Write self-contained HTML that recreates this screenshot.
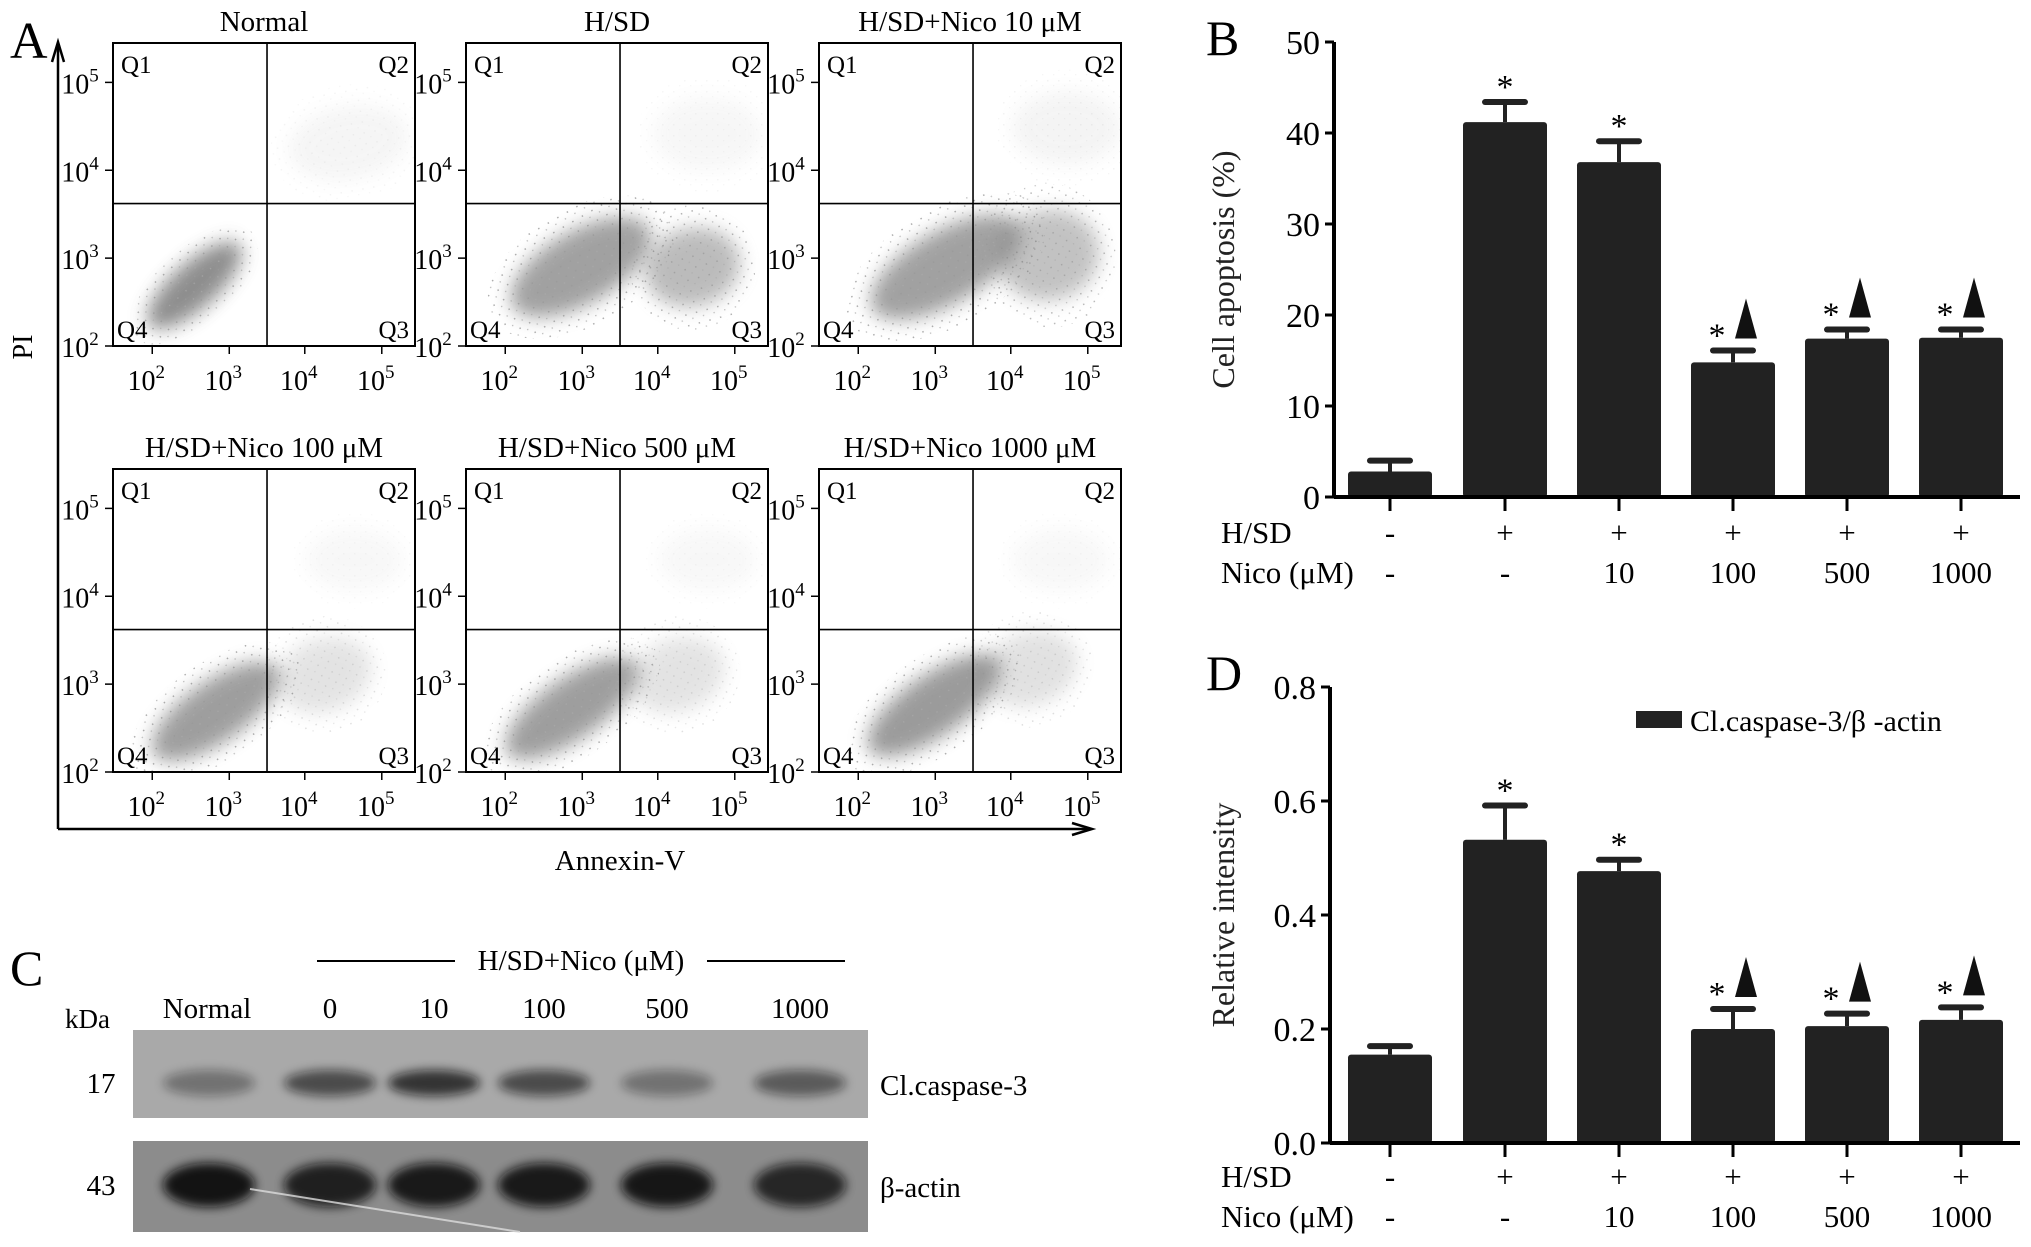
<!DOCTYPE html>
<html><head><meta charset="utf-8">
<style>
html,body{margin:0;padding:0;background:#fff;}
svg{display:block;}
svg text{font-family:"Liberation Serif","DejaVu Serif",serif;}
</style></head>
<body>
<svg id="fig" width="2031" height="1247" viewBox="0 0 2031 1247" xmlns="http://www.w3.org/2000/svg" font-family="Liberation Serif, serif">
<defs>
<filter id="blur8" x="-50%" y="-50%" width="200%" height="200%"><feGaussianBlur stdDeviation="9"/></filter>
<filter id="blur4" x="-50%" y="-50%" width="200%" height="200%"><feGaussianBlur stdDeviation="5"/></filter>
<pattern id="speck" width="11" height="11" patternUnits="userSpaceOnUse"><rect x="2" y="3" width="1.5" height="1.5" fill="#999"/><rect x="8" y="8" width="1.3" height="1.3" fill="#aaa"/></pattern>
</defs>
<g id="panelA"></g>
<g id="panelB"></g>
<g id="panelC"></g>
<g id="panelD"></g>
</svg>
<script>
// ---------- Chart B data ----------
const groupsHSD = ["-", "+", "+", "+", "+", "+"];
const groupsNico = ["-", "-", "10", "100", "500", "1000"];
const apoptosisValues = [2.8, 41.2, 36.8, 14.8, 17.4, 17.5];
const apoptosisErrors = [1.2, 2.2, 2.3, 1.3, 1.0, 0.9];
const apoptosisMarks = ["", "*", "*", "*▲", "*▲", "*▲"];
const apoptosisTicks = [0, 10, 20, 30, 40, 50];
// ---------- Chart D data ----------
const intensityValues = [0.155, 0.532, 0.477, 0.200, 0.205, 0.216];
const intensityErrors = [0.015, 0.060, 0.020, 0.035, 0.022, 0.022];
const intensityMarks = ["", "*", "*", "*▲", "*▲", "*▲"];
const intensityTicks = ["0.0", "0.2", "0.4", "0.6", "0.8"];
// ---------- Panel A data ----------
const flowTitles = ["Normal", "H/SD", "H/SD+Nico 10 μM", "H/SD+Nico 100 μM", "H/SD+Nico 500 μM", "H/SD+Nico 1000 μM"];
const flowTickExps = ["2", "3", "4", "5"];
// ---------- Panel C data ----------
const blotLanes = ["Normal", "0", "10", "100", "500", "1000"];
const caspaseBand = [0.35, 0.6, 0.75, 0.6, 0.35, 0.5];
const actinBand = [0.95, 0.85, 0.9, 0.9, 0.92, 0.8];

const NS = "http://www.w3.org/2000/svg";
const FF = "Liberation Serif, DejaVu Serif, serif";
function mk(parent, tag, attrs, text) {
  const e = document.createElementNS(NS, tag);
  for (const k in attrs) e.setAttribute(k, attrs[k]);
  if (tag === 'text' && !attrs['font-family']) e.setAttribute('font-family', FF);
  if (text !== undefined) e.textContent = text;
  parent.appendChild(e);
  return e;
}

// ================= Panel A =================
const A = document.getElementById('panelA');
let t = mk(A, 'text', {x: 10, y: 58, 'font-size': 52}, 'A');


let ax = mk(A, 'g', {});


mk(ax, 'line', {x1: 58, y1: 829, x2: 58, y2: 46, stroke: '#000', 'stroke-width': 2.5});
mk(ax, 'path', {d: 'M52,62 L58,42 L64,62', fill: 'none', stroke: '#000', 'stroke-width': 2.5});
let ax2 = mk(A, 'g', {});


mk(ax2, 'line', {x1: 58, y1: 829, x2: 1088, y2: 829, stroke: '#000', 'stroke-width': 2.5});
mk(ax2, 'path', {d: 'M1072,823 L1092,829 L1072,835', fill: 'none', stroke: '#000', 'stroke-width': 2.5});
t = mk(A, 'text', {x: 32, y: 347, 'font-size': 28, 'text-anchor': 'middle', transform: 'rotate(-90 32 347)'}, 'PI');


t = mk(A, 'text', {x: 620, y: 870, 'font-size': 29, 'text-anchor': 'middle'}, 'Annexin-V');



const boxX = [113, 466, 819], boxY = [43, 469], BW = 302, BH = 303;
const clouds = [
  [[0.27,0.8,0.2,0.075,-42,0.85],[0.78,0.33,0.2,0.12,-10,0.07]],
  [[0.38,0.74,0.26,0.12,-30,0.7],[0.75,0.74,0.16,0.13,-15,0.5],[0.8,0.3,0.18,0.12,0,0.06]],
  [[0.42,0.74,0.28,0.12,-30,0.7],[0.76,0.7,0.17,0.15,-15,0.45],[0.82,0.28,0.18,0.12,0,0.08]],
  [[0.34,0.8,0.25,0.1,-35,0.72],[0.7,0.68,0.16,0.12,-20,0.2],[0.8,0.3,0.16,0.1,0,0.05]],
  [[0.35,0.79,0.26,0.1,-35,0.72],[0.7,0.68,0.16,0.12,-20,0.2],[0.8,0.3,0.16,0.1,0,0.05]],
  [[0.38,0.78,0.26,0.1,-35,0.75],[0.7,0.66,0.16,0.12,-20,0.22],[0.8,0.3,0.16,0.1,0,0.05]]
];
flowTitles.forEach((title, i) => {
  const bx = boxX[i % 3], by = boxY[Math.floor(i / 3)];
  const g = mk(A, 'g', {});
  
  
  const tt = mk(g, 'text', {x: bx + BW / 2, y: by - 12, 'font-size': 29, 'text-anchor': 'middle'}, title);
  
  
  const cg = mk(g, 'g', {});
  
  
  const cp = mk(cg, 'clipPath', {id: 'clip' + i});
  mk(cp, 'rect', {x: bx, y: by, width: BW, height: BH});
  const cl = mk(cg, 'g', {'clip-path': 'url(#clip' + i + ')'});
  clouds[i].forEach(c => {
    const cx = bx + c[0] * BW, cy = by + c[1] * BH;
    mk(cl, 'ellipse', {cx: cx, cy: cy, rx: c[2] * BW, ry: c[3] * BH, fill: '#7a7a7a', opacity: c[5], transform: `rotate(${c[4]} ${cx} ${cy})`, filter: 'url(#blur8)'});
    mk(cl, 'ellipse', {cx: cx, cy: cy, rx: c[2] * BW * 1.3, ry: c[3] * BH * 1.6, fill: 'url(#speck)', opacity: Math.min(0.8, c[5] * 1.5), transform: `rotate(${c[4]} ${cx} ${cy})`});
  });
  mk(g, 'rect', {x: bx, y: by, width: BW, height: BH, fill: 'none', stroke: '#000', 'stroke-width': 2});
  mk(g, 'line', {x1: bx + 0.51 * BW, y1: by, x2: bx + 0.51 * BW, y2: by + BH, stroke: '#000', 'stroke-width': 1.6});
  mk(g, 'line', {x1: bx, y1: by + 0.53 * BH, x2: bx + BW, y2: by + 0.53 * BH, stroke: '#000', 'stroke-width': 1.6});
  [['Q1', bx + 8, by + 30, 'start'], ['Q2', bx + BW - 6, by + 30, 'end'], ['Q4', bx + 4, by + BH - 8, 'start'], ['Q3', bx + BW - 6, by + BH - 8, 'end']].forEach(q => {
    const qt = mk(g, 'text', {x: q[1], y: q[2], 'font-size': 25, 'text-anchor': q[3]}, q[0]);
    
    
  });
  const xf = [0.13, 0.385, 0.635, 0.89], yf = [1.0, 0.71, 0.42, 0.13];
  flowTickExps.forEach((e, k) => {
    const x = bx + xf[k] * BW;
    mk(g, 'line', {x1: x, y1: by + BH, x2: x, y2: by + BH + 8, stroke: '#000', 'stroke-width': 1.5});
    const xt = mk(g, 'text', {x: x - 6, y: by + BH + 44, 'font-size': 28, 'text-anchor': 'middle'});
    
    
    xt.textContent = '10';
    mk(xt, 'tspan', {dy: -12, 'font-size': 19}, e);
    const y = by + yf[k] * BH;
    mk(g, 'line', {x1: bx - 8, y1: y, x2: bx, y2: y, stroke: '#000', 'stroke-width': 1.5});
    const yt = mk(g, 'text', {x: bx - 33, y: y + 11, 'font-size': 28, 'text-anchor': 'middle'});
    
    
    yt.textContent = '10';
    mk(yt, 'tspan', {dy: -12, 'font-size': 19}, e);
  });
});

// ================= Bar chart helper =================
function barChart(root, opt) {
  const {x0, x1, y0, y1, vmax, values, errors, marks, ticks, title, titleX, letter, letterY, rowY} = opt;
  const yS = v => y0 - (v / vmax) * (y0 - y1);
  const centers = [1390, 1505, 1619, 1733, 1847, 1961];
  const bw = 84;
  let l = mk(root, 'text', {x: 1206, y: letterY, 'font-size': 50}, letter);
  
  
  const yt = mk(root, 'text', {x: titleX, y: (y0 + y1) / 2, 'font-size': 32, 'text-anchor': 'middle', fill: '#222', transform: `rotate(-90 ${titleX} ${(y0 + y1) / 2})`}, title);
  
  
  ticks.forEach(tk => {
    const y = yS(parseFloat(tk));
    mk(root, 'line', {x1: x0 - 9, y1: y, x2: x0, y2: y, stroke: '#000', 'stroke-width': 3});
    const tl = mk(root, 'text', {x: x0 - 14, y: y + 12, 'font-size': 34, 'text-anchor': 'end'}, tk);
    
    
  });
  values.forEach((v, i) => {
    const cx = centers[i];
    const top = yS(v), et = yS(v + errors[i]);
    const eg = mk(root, 'g', {});
    
    
    mk(eg, 'line', {x1: cx, y1: top, x2: cx, y2: et, stroke: '#222', 'stroke-width': 4});
    mk(eg, 'line', {x1: cx - 20, y1: et, x2: cx + 20, y2: et, stroke: '#222', 'stroke-width': 6, 'stroke-linecap': 'round'});
    const b = mk(root, 'rect', {x: cx - bw / 2, y: top, width: bw, height: y0 - top, fill: '#222', rx: 3});
    
    
    mk(root, 'line', {x1: cx, y1: y0, x2: cx, y2: y0 + 14, stroke: '#000', 'stroke-width': 3});
    if (marks[i]) {
      const my = et - 12;
      const sx = marks[i].length > 1 ? cx - 16 : cx;
      const st = mk(root, 'text', {x: sx, y: my + 8, 'font-size': 34, 'text-anchor': 'middle'}, '*');
      
      
      if (marks[i].length > 1) {
        const tr = mk(root, 'path', {d: `M${cx + 2},${my} L${cx + 24},${my} L${cx + 13},${my - 40} Z`, fill: '#111'});
        
        
      }
    }
    const h = mk(root, 'text', {x: cx, y: rowY[0], 'font-size': 31, 'text-anchor': 'middle'}, groupsHSD[i]);
    
    
    const n = mk(root, 'text', {x: cx, y: rowY[1], 'font-size': 31, 'text-anchor': 'middle'}, groupsNico[i]);
    
    
  });
  mk(root, 'line', {x1: x0, y1: y0, x2: x1, y2: y0, stroke: '#000', 'stroke-width': 4});
  mk(root, 'line', {x1: x0, y1: y0, x2: x0, y2: y1, stroke: '#000', 'stroke-width': 4});
  const hl = mk(root, 'text', {x: 1221, y: rowY[0], 'font-size': 31}, 'H/SD');
  
  
  const nl = mk(root, 'text', {x: 1221, y: rowY[1], 'font-size': 31}, 'Nico (μM)');
  
  
}
barChart(document.getElementById('panelB'), {x0: 1334, x1: 2020, y0: 497, y1: 42, vmax: 50,
  values: apoptosisValues, errors: apoptosisErrors, marks: apoptosisMarks, ticks: apoptosisTicks.map(String),
  title: 'Cell apoptosis (%)', titleX: 1234, letter: 'B', letterY: 55, rowY: [543, 583]});
const D = document.getElementById('panelD');
barChart(D, {x0: 1330, x1: 2020, y0: 1143, y1: 687, vmax: 0.8,
  values: intensityValues, errors: intensityErrors, marks: intensityMarks, ticks: intensityTicks,
  title: 'Relative intensity', titleX: 1234, letter: 'D', letterY: 690, rowY: [1187, 1227]});
const lg = mk(D, 'g', {});


mk(lg, 'rect', {x: 1636, y: 711, width: 46, height: 17, fill: '#222'});
mk(lg, 'text', {x: 1690, y: 731, 'font-size': 30}, 'Cl.caspase-3/β -actin');

// ================= Panel C =================
const C = document.getElementById('panelC');
t = mk(C, 'text', {x: 10, y: 985, 'font-size': 50}, 'C');


mk(C, 'line', {x1: 317, y1: 961, x2: 455, y2: 961, stroke: '#000', 'stroke-width': 2});
mk(C, 'line', {x1: 707, y1: 961, x2: 845, y2: 961, stroke: '#000', 'stroke-width': 2});
t = mk(C, 'text', {x: 581, y: 970, 'font-size': 29, 'text-anchor': 'middle'}, 'H/SD+Nico (μM)');


t = mk(C, 'text', {x: 65, y: 1028, 'font-size': 27}, 'kDa');


const laneX = [207, 330, 434, 544, 667, 800];
blotLanes.forEach((ln, i) => {
  const lt = mk(C, 'text', {x: laneX[i], y: 1018, 'font-size': 29, 'text-anchor': 'middle'}, ln);
  
  
});
function blot(y, h, bg, vals, name, mw, label, bandH, bandY) {
  const g = mk(C, 'g', {});
  
  
  mk(g, 'rect', {x: 133, y: y, width: 735, height: h, fill: bg});
  vals.forEach((v, i) => {
    mk(g, 'ellipse', {cx: laneX[i] + (i === 0 ? 2 : 0), cy: bandY, rx: 46, ry: bandH, fill: '#111', opacity: v, filter: 'url(#blur4)'});
  });
  const mt = mk(C, 'text', {x: 101, y: bandY + 10, 'font-size': 29, 'text-anchor': 'middle'}, mw);
  
  
  const pt = mk(C, 'text', {x: 880, y: bandY + 12, 'font-size': 29}, label);
  
  
}
blot(1030, 88, '#a9a9a9', caspaseBand, 'caspase-3-blot', '17', 'Cl.caspase-3', 13, 1083);
blot(1141, 91, '#8c8c8c', actinBand, 'beta-actin-blot', '43', 'β-actin', 22, 1185);
mk(C, 'line', {x1: 250, y1: 1189, x2: 520, y2: 1232, stroke: '#ddd', 'stroke-width': 2, opacity: 0.8});
</script>
</body></html>
